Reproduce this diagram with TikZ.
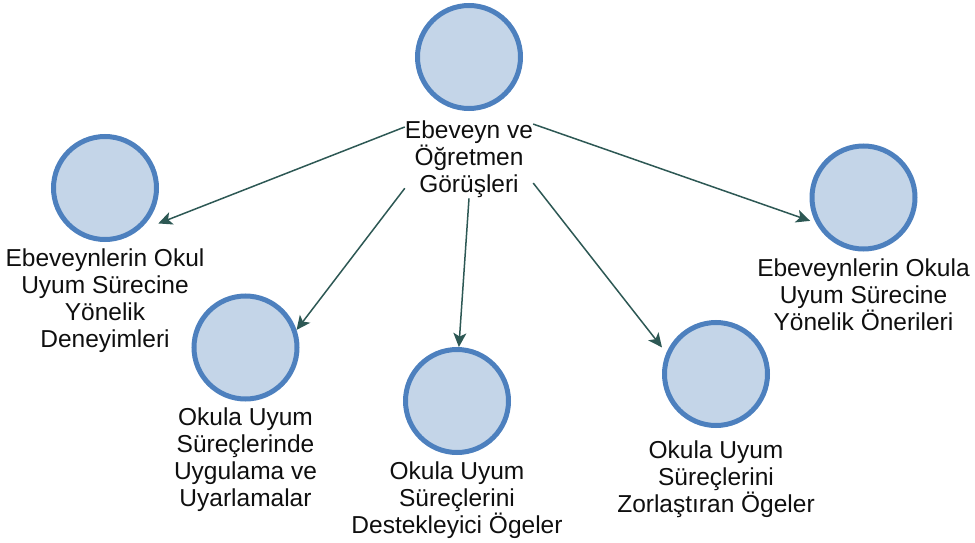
\documentclass[tikz,border=0pt]{standalone}
\usepackage{fontspec}
\setmainfont{Liberation Sans}
\usetikzlibrary{positioning,arrows.meta}
\definecolor{ringc}{RGB}{77,128,190}
\definecolor{diskc}{RGB}{196,213,232}
\definecolor{arrowc}{RGB}{45,88,84}
\definecolor{textc}{RGB}{15,15,15}

\begin{document}
\begin{tikzpicture}
[x=1pt,y=-1pt,
 stage/.style={circle,draw=ringc,fill=diskc,line width=5pt,minimum size=103pt,inner sep=0pt},
 txt/.style={align=center,inner sep=0pt,text=textc,font=\fontsize{24.5}{27}\selectfont},
 link/.style={-{Stealth[length=14pt,width=13pt,inset=3.5pt]},line width=1.5pt,arrowc}]

\useasboundingbox (0,0) rectangle (975,543);

% top
\node[stage] (Top) at (469,57) {};
\node[txt] (TopL) [below=10pt of Top] {Ebeveyn ve\\Öğretmen\\Görüşleri};

% children
\node[stage] (Den)  [on grid,below left=131pt and 364pt of Top]    {};
\node[stage] (Uyg)  [on grid,below left=290.5pt and 223.5pt of Top] {};
\node[stage] (Des)  [on grid,below left=344pt and 12pt of Top]      {};
\node[stage] (Zor)  [on grid,below right=317pt and 247pt of Top]    {};
\node[stage] (Oner) [on grid,below right=140.5pt and 394.5pt of Top] {};

\node[txt] (DenL)  [below=7pt of Den]  {Ebeveynlerin Okul\\Uyum Sürecine\\Yönelik\\Deneyimleri};
\node[txt] (UygL)  [below=6pt of Uyg]  {Okula Uyum\\Süreçlerinde\\Uygulama ve\\Uyarlamalar};
\node[txt] (DesL)  [below=7pt of Des]  {Okula Uyum\\Süreçlerini\\Destekleyici Ögeler};
\node[txt] (ZorL)  [below=13pt of Zor] {Okula Uyum\\Süreçlerini\\Zorlaştıran Ögeler};
\node[txt] (OnerL) [below=7pt of Oner] {Ebeveynlerin Okula\\Uyum Sürecine\\Yönelik Önerileri};

% arrows
\path[link] (TopL.153)   edge[shorten >=24pt] (Den.-55);
\path[link] (TopL.204)   edge                 (Uyg.19);
\path[link] (TopL.south) edge                 (Des.88);
\path[link] (TopL.-20)   edge[shorten >=7pt]  (Zor.157);
\path[link] (TopL.29)    edge[shorten >=6pt]  (Oner.208);

\end{tikzpicture}
\end{document}
